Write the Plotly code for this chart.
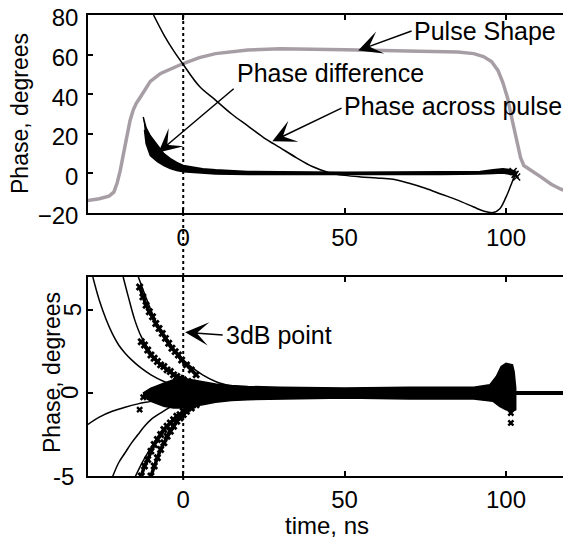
import plotly.graph_objects as go

# ---------------- data: top panel ----------------
pulse_t = [-30, -26, -23, -21.5, -20.5, -19.5, -18.5, -17.4, -16.5, -15.5, -14.5, -13.3, -11.5, -10.2,
           -7, -3, 0, 5, 10, 20, 30, 50, 70, 85, 90, 93, 95.5, 97.5, 99, 100.5, 101.5, 102.5,
           103.5, 104.5, 105.5, 107, 108.5, 111, 114, 117, 120]
pulse_v = [-13.8, -12.8, -11.5, -9.5, -5, 1.5, 10, 20, 26.5, 32, 35.5, 38.5, 43, 46.5,
           50.5, 53.5, 55.5, 58.5, 60.5, 62.3, 63, 62.5, 62, 61.3, 60.5, 59, 56.5, 52, 46, 38, 30, 22,
           14, 8, 4, 2.5, 1, -2, -5.5, -8, -9.6]

across_t = [-9.2, -6, -3, 0, 5, 10, 15, 20, 25, 30, 35, 40, 45, 50, 55, 60, 65, 70, 75, 80, 85,
            90, 93, 96, 98, 100, 101.5, 102.5, 103.5]
across_v = [80, 70, 62, 55, 44, 37, 30, 24, 18, 13, 8, 3.5, 0.5, -1, -1.8, -2.3, -3, -5, -7.5, -10.5,
            -13.5, -17, -19, -19.8, -18, -12, -6, -2, 0.5]

diff_up_t = [-12.4, -11.5, -10.2, -8, -6, -4, -2, 0, 3, 6, 10, 15, 20, 30, 50, 80, 92, 96, 99, 101, 103]
diff_up_v = [28.5, 23, 19, 14, 10, 7.5, 5.5, 4, 3, 2.3, 1.8, 1.3, 1, 0.8, 0.6, 0.8, 1, 1.8, 2.3, 2, 1]
diff_lo_t = [-12.0, -11.5, -10.2, -8, -6, -4, -2, 0, 3, 6, 10, 20, 50, 80, 92, 96, 99, 101, 103]
diff_lo_v = [22, 15, 9, 6, 4, 2.5, 1.5, 0.8, 0.3, 0, -0.3, -0.5, -0.6, -0.5, -0.3, 0, 0.2, -0.5, -1]
diff_end_t = [102.2, 102.8, 103.3]
diff_end_v = [1.0, -0.5, -1.8]

# ---------------- data: bottom panel ----------------
fitA_t = [-28, -26, -24, -22, -20, -18, -16, -13, -10, -6, 0, 10]
fitA_v = [7, 5.6, 4.5, 3.6, 2.9, 2.4, 2.0, 1.5, 1.1, 0.7, 0.3, 0.05]
fitB_t = [-18.6, -17, -15, -13, -10, -7, -4, 0, 5, 12]
fitB_v = [7, 5.8, 4.4, 3.4, 2.4, 1.7, 1.2, 0.8, 0.4, 0.1]
fitC_t = [-13.9, -12, -10, -8, -6, -4, -2, 0, 3, 6, 10, 15, 20, 30]
fitC_v = [7, 6, 5, 4.1, 3.4, 2.8, 2.4, 2.0, 1.5, 1.1, 0.7, 0.4, 0.2, 0.05]
fitE_t = [-30, -26, -22, -18, -14, -10, -5, 0, 10]
fitE_v = [-1.95, -1.45, -1.1, -0.85, -0.65, -0.5, -0.3, -0.15, 0]
fitF_t = [-22, -20, -18, -16, -14, -12, -10, -7, -4, 0, 5, 12]
fitF_v = [-5.1, -4.2, -3.6, -3.0, -2.5, -2.0, -1.6, -1.2, -0.85, -0.5, -0.25, -0.05]
fitG_t = [-15, -13, -11, -9, -7, -5, -3, 0, 5, 12]
fitG_v = [-5.1, -4.3, -3.6, -3.0, -2.4, -2.0, -1.6, -1.1, -0.6, -0.2]

measC_t = [-13.5, -12.5, -11.5, -10.5, -9.5, -8.5, -7.5, -6.5, -5.5, -4.5, -3.5, -2.5, -1.5, -0.5, 1, 2.5, 4]
measC_v = [6.4, 5.8, 5.3, 4.9, 4.6, 4.2, 3.9, 3.6, 3.3, 3.0, 2.7, 2.5, 2.3, 2.0, 1.7, 1.4, 1.1]
measD_t = [-13, -12, -11, -10, -9, -8, -7, -6, -5, -4, -3, -2, -1, 0, 1.5, 3]
measD_v = [3.1, 2.9, 2.6, 2.3, 2.1, 1.9, 1.7, 1.6, 1.4, 1.3, 1.1, 1.0, 0.9, 0.8, 0.7, 0.6]
measG1_t = [-13, -12, -11, -10, -9, -8, -7, -6, -5, -4, -3, -2, -1, 0, 1.5, 3]
measG1_v = [-5, -4.4, -4.0, -3.5, -3.1, -2.8, -2.5, -2.2, -2.0, -1.8, -1.6, -1.4, -1.3, -1.1, -0.9, -0.7]
measG2_t = [-10, -9, -8, -7, -6, -5, -4, -3, -2, -1, 0, 1, 2.5, 4]
measG2_v = [-5, -4.4, -3.9, -3.4, -3.0, -2.6, -2.3, -2.0, -1.7, -1.5, -1.3, -1.1, -0.9, -0.7]
measStray_t = [-13.5, -12.4]
measStray_v = [-1.0, -0.25]

noise_up_t = [-12.5, -10, -6, -3, 0, 3, 6, 10, 15, 20, 30, 50, 70, 90, 95, 97, 98.5, 100, 102, 102.5, 103]
noise_up_v = [0, 0.3, 0.6, 0.8, 0.9, 0.8, 0.7, 0.55, 0.45, 0.4, 0.35, 0.3, 0.35, 0.35, 0.5, 1.0, 1.6, 1.8, 1.7, 1.3, 0.3]
noise_lo_t = [-12.5, -10, -6, -3, 0, 3, 6, 10, 15, 20, 30, 50, 70, 90, 96, 98, 100, 102, 103]
noise_lo_v = [-0.2, -0.5, -0.8, -0.9, -0.9, -0.8, -0.7, -0.55, -0.45, -0.4, -0.35, -0.3, -0.35, -0.35, -0.5, -0.8, -1.0, -1.1, -1.0]
noise_end_t = [101.5, 101.5]
noise_end_v = [-1.2, -1.8]
flat_t = [103, 120]
flat_v = [0, 0]

top_ticks = [-20, 0, 20, 40, 60, 80]
x_ticks = [0, 50, 100]
bot_ticks = [-5, 0, 5]

FONT = "Liberation Sans, Arial, sans-serif"
GRAY = "#a79ea5"

# page body has an 8px margin: figure coordinates are screen coordinates minus OFF
OFF = 8
W, H = 571 - OFF, 544 - OFF


def xp(p):
    return (p - OFF) / W


def yp(p):
    return 1 - (p - OFF) / H


fig = go.Figure()


def poly(ut, uv, lt, lv):
    return ut + lt[::-1], uv + lv[::-1]


# top panel
fig.add_trace(go.Scatter(x=pulse_t, y=pulse_v, mode="lines", line=dict(color=GRAY, width=3.5),
                         xaxis="x", yaxis="y"))
px_, py_ = poly(diff_up_t, diff_up_v, diff_lo_t, diff_lo_v)
fig.add_trace(go.Scatter(x=px_, y=py_, mode="lines", fill="toself", fillcolor="black",
                         line=dict(color="black", width=1.5), xaxis="x", yaxis="y"))
fig.add_trace(go.Scatter(x=diff_end_t, y=diff_end_v, mode="markers",
                         marker=dict(symbol="x-thin", size=7, line=dict(color="black", width=1.5)),
                         xaxis="x", yaxis="y"))
fig.add_trace(go.Scatter(x=across_t, y=across_v, mode="lines", line=dict(color="black", width=1.5),
                         xaxis="x", yaxis="y", line_shape="spline"))

# bottom panel
for t, v in [(fitA_t, fitA_v), (fitB_t, fitB_v), (fitC_t, fitC_v), (fitE_t, fitE_v),
             (fitF_t, fitF_v), (fitG_t, fitG_v)]:
    fig.add_trace(go.Scatter(x=t, y=v, mode="lines", line=dict(color="black", width=1.5),
                             xaxis="x2", yaxis="y2", line_shape="spline"))
nx, ny = poly(noise_up_t, noise_up_v, noise_lo_t, noise_lo_v)
fig.add_trace(go.Scatter(x=nx, y=ny, mode="lines", fill="toself", fillcolor="black",
                         line=dict(color="black", width=1.5), xaxis="x2", yaxis="y2"))
for t, v in [(measC_t, measC_v), (measD_t, measD_v), (measG1_t, measG1_v), (measG2_t, measG2_v)]:
    fig.add_trace(go.Scatter(x=t, y=v, mode="lines+markers", line=dict(color="black", width=3.5),
                             marker=dict(symbol="x", size=7, color="black"),
                             xaxis="x2", yaxis="y2"))
fig.add_trace(go.Scatter(x=measStray_t + noise_end_t, y=measStray_v + noise_end_v, mode="markers",
                         marker=dict(symbol="x", size=6, color="black"), xaxis="x2", yaxis="y2"))
fig.add_trace(go.Scatter(x=flat_t, y=flat_v, mode="lines", line=dict(color="black", width=4),
                         xaxis="x2", yaxis="y2"))

xdom = [xp(88), xp(568)]
axis_common = dict(showline=True, linecolor="black", linewidth=1.5, mirror="ticks", ticks="inside",
                   ticklen=5, tickwidth=1.5, tickcolor="black", showgrid=False, zeroline=False,
                   automargin=False, ticklabeloverflow="allow",
                   tickfont=dict(family=FONT, size=24, color="black"))

fig.update_layout(
    template="none",
    width=W, height=H, margin=dict(l=0, r=0, t=0, b=0, pad=0),
    paper_bgcolor="white", plot_bgcolor="white", showlegend=False,
    xaxis=dict(domain=xdom, range=[-29.5, 119.2], tickvals=x_ticks, anchor="y",
               ticklabelstandoff=2, **axis_common),
    yaxis=dict(domain=[yp(213), yp(15)], range=[-20, 80], tickvals=top_ticks, anchor="x",
               ticklabelstandoff=3, ticklabelshift=3, **axis_common),
    xaxis2=dict(domain=xdom, range=[-29.5, 119.2], tickvals=x_ticks, anchor="y2",
                ticklabelstandoff=1, **axis_common),
    yaxis2=dict(domain=[yp(476), yp(277)], range=[-5.0, 7], tickvals=bot_ticks, anchor="x2",
                showticklabels=False, **axis_common),
)

# dotted 3dB line through both panels
fig.add_shape(type="line", xref="x", yref="paper", x0=0, x1=0, y0=yp(480), y1=yp(15),
              line=dict(color="black", width=2, dash="dot"))

tf = dict(family=FONT, size=25, color="black")
tfy = dict(family=FONT, size=23, color="black")
tft = dict(family=FONT, size=24, color="black")

# axis titles
fig.add_annotation(text="Phase, degrees", xref="paper", yref="paper", x=xp(20), y=yp(114),
                   textangle=-90, showarrow=False, font=tfy, xanchor="center", yanchor="middle")
fig.add_annotation(text="Phase, degrees", xref="paper", yref="paper", x=xp(52), y=yp(373),
                   textangle=-90, showarrow=False, font=tfy, xanchor="center", yanchor="middle")
fig.add_annotation(text="time, ns", xref="paper", yref="paper", x=xp(327), y=yp(525),
                   showarrow=False, font=dict(family=FONT, size=24, color="black"),
                   xanchor="center", yanchor="middle")

# bottom y tick labels (two rotated, one horizontal)
for val, txt, xpx, ang in [(5, "5", 72, -90), (0, "0", 69, -90), (-5, "-5", 63, 0)]:
    fig.add_annotation(text=txt, xref="paper", yref="y2", x=xp(xpx), y=val, textangle=ang,
                       showarrow=False, font=tft, xanchor="center", yanchor="middle")

# arrows (head and tail in data coords)
arrow = dict(showarrow=True, arrowhead=3, arrowsize=2.6, arrowwidth=1.5, arrowcolor="black", text="")
fig.add_annotation(x=54.2, y=62.1, ax=71.2, ay=72.2, xref="x", yref="y", axref="x", ayref="y", **arrow)
fig.add_annotation(x=-7.7, y=10.6, ax=16.1, ay=43.4, xref="x", yref="y", axref="x", ayref="y", **arrow)
fig.add_annotation(x=27.6, y=16.2, ax=49.5, ay=33.3, xref="x", yref="y", axref="x", ayref="y", **arrow)
fig.add_annotation(x=0.6, y=3.67, ax=12.7, ay=3.5, xref="x2", yref="y2", axref="x2", ayref="y2", **arrow)

# annotation texts
for txt, x, y, xr, yr in [("Pulse Shape", 71.2, 71.7, "x", "y"),
                          ("Phase difference", 16.5, 50.5, "x", "y"),
                          ("Phase across pulse", 49.6, 33.8, "x", "y"),
                          ("3dB point", 12.8, 3.5, "x2", "y2")]:
    fig.add_annotation(text=txt, x=x, y=y, xref=xr, yref=yr, showarrow=False, font=tf,
                       xanchor="left", yanchor="middle", borderpad=0)

fig.write_html("out.html")
